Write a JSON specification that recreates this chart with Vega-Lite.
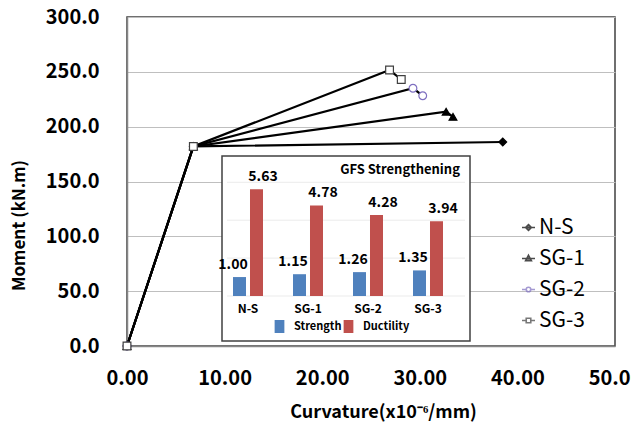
{
  "$schema": "https://vega.github.io/schema/vega-lite/v6.json",
  "width": 488,
  "height": 329,
  "autosize": {"type": "none"},
  "padding": {"left": 127, "top": 17, "right": 16, "bottom": 83},
  "background": "white",
  "config": {
    "font": "Noto Sans CJK KR",
    "view": {"stroke": "#404040", "strokeWidth": 1.5}
  },
  "datasets": {
    "curves": [
      {"series": "N-S", "curvature": 0, "moment": 0},
      {"series": "N-S", "curvature": 6.8, "moment": 182},
      {"series": "N-S", "curvature": 38.5, "moment": 186},
      {"series": "SG-1", "curvature": 0, "moment": 0},
      {"series": "SG-1", "curvature": 6.8, "moment": 182},
      {"series": "SG-1", "curvature": 32.7, "moment": 213.6},
      {"series": "SG-1", "curvature": 33.4, "moment": 209},
      {"series": "SG-2", "curvature": 0, "moment": 0},
      {"series": "SG-2", "curvature": 6.8, "moment": 182},
      {"series": "SG-2", "curvature": 29.3, "moment": 235},
      {"series": "SG-2", "curvature": 30.3, "moment": 228.2},
      {"series": "SG-3", "curvature": 0, "moment": 0},
      {"series": "SG-3", "curvature": 6.8, "moment": 182},
      {"series": "SG-3", "curvature": 26.9, "moment": 251.6},
      {"series": "SG-3", "curvature": 28.1, "moment": 243}
    ],
    "bars": [
      {"specimen": "N-S", "metric": "Strength", "ratio": 1.00},
      {"specimen": "N-S", "metric": "Ductility", "ratio": 5.63},
      {"specimen": "SG-1", "metric": "Strength", "ratio": 1.15},
      {"specimen": "SG-1", "metric": "Ductility", "ratio": 4.78},
      {"specimen": "SG-2", "metric": "Strength", "ratio": 1.26},
      {"specimen": "SG-2", "metric": "Ductility", "ratio": 4.28},
      {"specimen": "SG-3", "metric": "Strength", "ratio": 1.35},
      {"specimen": "SG-3", "metric": "Ductility", "ratio": 3.94}
    ]
  },
  "layer": [
    {
      "data": {"name": "curves"},
      "mark": {"type": "line", "color": "black", "strokeWidth": 2.2},
      "encoding": {
        "x": {
          "field": "curvature", "type": "quantitative",
          "scale": {"domain": [0, 50], "nice": false},
          "axis": {
            "title": "Curvature(x10⁻⁶/mm)",
            "values": [0, 10, 20, 30, 40, 50],
            "format": ".2f",
            "grid": false,
            "ticks": false,
            "domainColor": "#868686",
            "domainWidth": 1.5,
            "labelFontSize": 20,
            "labelFontWeight": "bold",
            "labelColor": "black",
            "labelPadding": 22,
            "labelFlush": false,
            "labelOverlap": false,
            "titleFontSize": 18,
            "titleFontWeight": "bold",
            "titleColor": "black",
            "titlePadding": 15,
            "titleX": 256
          }
        },
        "y": {
          "field": "moment", "type": "quantitative",
          "scale": {"domain": [0, 300], "nice": false},
          "axis": {
            "title": "Moment (kN.m)",
            "values": [0, 50, 100, 150, 200, 250, 300],
            "format": ".1f",
            "grid": true,
            "gridColor": "#BFBFBF",
            "gridWidth": 1,
            "ticks": false,
            "domainColor": "#868686",
            "domainWidth": 1.5,
            "labelFontSize": 20,
            "labelFontWeight": "bold",
            "labelColor": "black",
            "labelPadding": 28,
            "labelFlush": false,
            "labelOverlap": false,
            "titleFontSize": 17,
            "titleFontWeight": "bold",
            "titleColor": "black",
            "titleAngle": -90,
            "titleAlign": "center",
            "titleBaseline": "middle",
            "titleX": -108,
            "titleY": 208
          }
        },
        "detail": {"field": "series", "type": "nominal"}
      }
    },
    {
      "data": {"name": "curves"},
      "mark": {"type": "point", "size": 60, "strokeWidth": 1.2, "opacity": 1},
      "encoding": {
        "x": {"field": "curvature", "type": "quantitative", "scale": {"domain": [0, 50], "nice": false}, "axis": null},
        "y": {"field": "moment", "type": "quantitative", "scale": {"domain": [0, 300], "nice": false}, "axis": null},
        "shape": {
          "field": "series", "type": "nominal",
          "scale": {"domain": ["N-S", "SG-1", "SG-2", "SG-3"], "range": ["diamond", "triangle-up", "circle", "square"]},
          "legend": null
        },
        "fill": {
          "field": "series", "type": "nominal",
          "scale": {"domain": ["N-S", "SG-1", "SG-2", "SG-3"], "range": ["black", "black", "white", "white"]},
          "legend": null
        },
        "stroke": {
          "field": "series", "type": "nominal",
          "scale": {"domain": ["N-S", "SG-1", "SG-2", "SG-3"], "range": ["black", "black", "#7F70C0", "#404040"]},
          "legend": null
        }
      }
    },
    {
      "data": {"name": "curves"},
      "transform": [{"filter": "false"}],
      "mark": {"type": "point", "size": 169, "strokeWidth": 1.6},
      "encoding": {
        "x": {"field": "curvature", "type": "quantitative", "scale": {"domain": [0, 50], "nice": false}, "axis": null},
        "y": {"field": "moment", "type": "quantitative", "scale": {"domain": [0, 300], "nice": false}, "axis": null},
        "shape": {
          "field": "series", "type": "nominal",
          "scale": {
            "domain": ["N-S", "SG-1", "SG-2", "SG-3"],
            "range": [
              "M-1,0H1M0,-0.45L0.45,0L0,0.45L-0.45,0Z",
              "M-1,0H1M0,-0.5L0.45,0.35L-0.45,0.35Z",
              "M-1,0H-0.35M0.35,0H1M0.35,0A0.35,0.35 0 1 1 -0.35,0A0.35,0.35 0 1 1 0.35,0Z",
              "M-1,0H-0.35M0.35,0H1M-0.35,-0.35H0.35V0.35H-0.35Z"
            ]
          },
          "legend": {
            "title": null,
            "orient": "none",
            "legendX": 391,
            "legendY": 200,
            "padding": 0,
            "labelFontSize": 21,
            "labelFont": "Noto Sans CJK KR",
            "labelColor": "black",
            "labelOffset": 0,
            "rowPadding": 9,
            "symbolSize": 169,
            "symbolStrokeWidth": 1.6
          }
        },
        "fill": {
          "field": "series", "type": "nominal",
          "scale": {"domain": ["N-S", "SG-1", "SG-2", "SG-3"], "range": ["black", "black", "white", "white"]}
        },
        "stroke": {
          "field": "series", "type": "nominal",
          "scale": {"domain": ["N-S", "SG-1", "SG-2", "SG-3"], "range": ["black", "black", "#7F70C0", "#404040"]}
        }
      }
    },
    {
      "data": {"values": [{}]},
      "mark": {"type": "rect", "fill": "white", "stroke": "#404040", "strokeWidth": 1.5},
      "encoding": {
        "x": {"datum": 0, "type": "quantitative", "scale": {"domain": [0, 1], "range": [95, 343]}, "axis": null},
        "x2": {"datum": 1},
        "y": {"datum": -2.37, "type": "quantitative", "scale": {"domain": [0, 6], "range": [279, 165.3], "nice": false, "zero": false}, "axis": null},
        "y2": {"datum": 7.39}
      }
    },
    {
      "data": {"values": [{"level": 0}, {"level": 2}, {"level": 4}, {"level": 6}]},
      "mark": {"type": "rule", "color": "#EBEBEB", "strokeWidth": 1},
      "encoding": {
        "x": {"datum": 0.02, "type": "quantitative", "scale": {"domain": [0, 1], "range": [95, 343]}, "axis": null},
        "x2": {"datum": 0.98},
        "y": {"field": "level", "type": "quantitative", "scale": {"domain": [0, 6], "range": [279, 165.3], "nice": false, "zero": false}, "axis": null}
      }
    },
    {
      "data": {"values": [{"label": "GFS Strengthening"}]},
      "mark": {"type": "text", "fontSize": 13, "fontWeight": "bold", "color": "black", "align": "center", "baseline": "middle"},
      "encoding": {
        "x": {"datum": 0.718, "type": "quantitative", "scale": {"domain": [0, 1], "range": [95, 343]}, "axis": null},
        "y": {"datum": 6.65, "type": "quantitative", "scale": {"domain": [0, 6], "range": [279, 165.3], "nice": false, "zero": false}, "axis": null},
        "text": {"field": "label"}
      }
    },
    {
      "data": {"name": "bars"},
      "mark": {"type": "bar"},
      "encoding": {
        "x": {
          "field": "specimen", "type": "nominal",
          "scale": {"domain": ["N-S", "SG-1", "SG-2", "SG-3"], "range": [91, 331], "paddingInner": 0.5, "paddingOuter": 0.25},
          "axis": {
            "orient": "bottom",
            "offset": -50,
            "zindex": 2,
            "title": null,
            "domain": false,
            "ticks": false,
            "grid": false,
            "labelAngle": 0,
            "labelFontSize": 12,
            "labelFontWeight": "bold",
            "labelColor": "black",
            "labelPadding": 7
          }
        },
        "xOffset": {
          "field": "metric", "type": "nominal",
          "scale": {"domain": ["Strength", "Ductility"], "paddingInner": 0.235, "paddingOuter": 0}
        },
        "y": {"field": "ratio", "type": "quantitative", "scale": {"domain": [0, 6], "range": [279, 165.3], "nice": false}, "axis": null},
        "color": {
          "field": "metric", "type": "nominal",
          "scale": {"domain": ["Strength", "Ductility"], "range": ["#4F81BD", "#C0504D"]},
          "legend": {
            "title": null,
            "orient": "none",
            "direction": "horizontal",
            "legendX": 146,
            "legendY": 303,
            "padding": 0,
            "labelFontSize": 11,
            "labelFontWeight": "bold",
            "labelColor": "black",
            "labelOffset": 8,
            "symbolType": "M-0.75,-1H0.75V1H-0.75Z",
            "symbolSize": 169,
            "symbolStrokeWidth": 0,
            "columnPadding": 0
          }
        }
      }
    },
    {
      "data": {"name": "bars"},
      "mark": {"type": "text", "fontSize": 14, "fontWeight": "bold", "color": "black", "baseline": "bottom", "dy": -5},
      "encoding": {
        "x": {
          "field": "specimen", "type": "nominal",
          "scale": {"domain": ["N-S", "SG-1", "SG-2", "SG-3"], "range": [91, 331], "paddingInner": 0.5, "paddingOuter": 0.25},
          "axis": null
        },
        "xOffset": {
          "field": "metric", "type": "nominal",
          "scale": {"domain": ["Strength", "Ductility"], "paddingInner": 0.235, "paddingOuter": 0}
        },
        "y": {"field": "ratio", "type": "quantitative", "scale": {"domain": [0, 6], "range": [279, 165.3], "nice": false}, "axis": null},
        "text": {"field": "ratio", "type": "quantitative", "format": ".2f"}
      }
    }
  ],
  "resolve": {
    "scale": {"x": "independent", "y": "independent", "xOffset": "independent", "color": "independent", "shape": "independent", "fill": "independent", "stroke": "independent"}
  }
}
